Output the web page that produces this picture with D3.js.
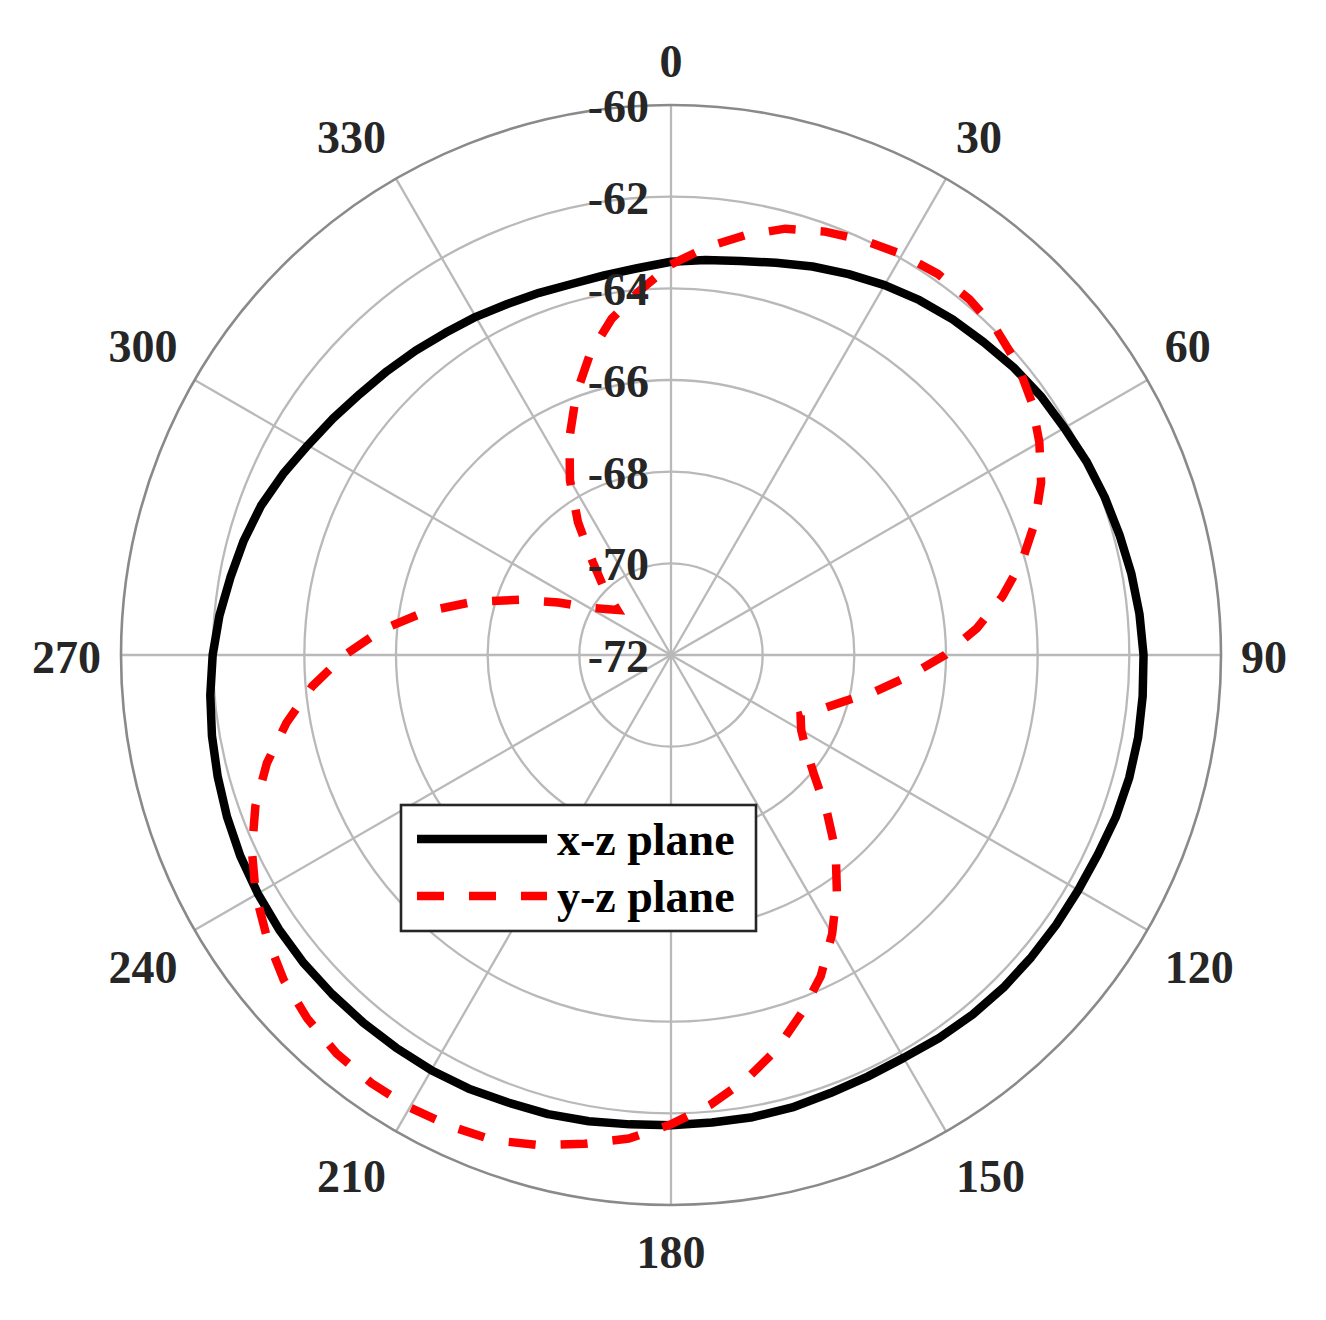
<!DOCTYPE html>
<html><head><meta charset="utf-8">
<script src="https://cdn.jsdelivr.net/npm/d3@7"></script>
<style>
body{margin:0;background:#fff;}
text{font-family:"Liberation Serif","Times New Roman",serif;font-weight:bold;}
</style>
</head><body>
<svg id="chart" width="1326" height="1320"></svg>
<script>
const angles = [0,5,10,15,20,25,30,35,40,45,50,55,60,65,70,75,80,85,90,95,100,105,110,115,120,125,130,135,140,145,150,155,160,165,170,175,180,185,190,195,200,205,210,215,220,225,230,235,240,245,250,255,260,265,270,275,280,285,290,295,300,305,310,315,320,325,330,335,340,345,350,355];
const xzPlane = [-63.42,-63.35,-63.27,-63.14,-62.98,-62.83,-62.68,-62.55,-62.44,-62.35,-62.24,-62.15,-62.09,-62.00,-61.93,-61.87,-61.80,-61.74,-61.69,-61.67,-61.65,-61.65,-61.67,-61.72,-61.74,-61.74,-61.74,-61.74,-61.76,-61.80,-61.85,-61.85,-61.83,-61.78,-61.76,-61.76,-61.74,-61.72,-61.67,-61.63,-61.61,-61.56,-61.54,-61.54,-61.54,-61.54,-61.54,-61.56,-61.59,-61.63,-61.69,-61.76,-61.83,-61.91,-62.00,-62.11,-62.24,-62.35,-62.48,-62.66,-62.85,-63.00,-63.14,-63.24,-63.33,-63.42,-63.48,-63.55,-63.59,-63.62,-63.59,-63.53];
const yzPlane = [-63.48,-63.07,-62.70,-62.37,-62.17,-62.02,-61.91,-61.85,-61.87,-61.96,-62.13,-62.39,-62.72,-63.09,-63.55,-64.07,-64.66,-65.30,-66.02,-66.78,-67.46,-68.09,-68.53,-68.88,-68.72,-68.40,-67.92,-67.20,-66.41,-65.69,-64.97,-64.27,-63.68,-63.09,-62.59,-62.15,-61.76,-61.41,-61.17,-60.93,-60.73,-60.65,-60.60,-60.60,-60.65,-60.78,-60.97,-61.24,-61.54,-61.91,-62.35,-62.87,-63.48,-64.14,-64.88,-65.67,-66.56,-67.52,-68.48,-69.29,-69.93,-70.25,-70.47,-69.93,-69.34,-68.46,-67.59,-66.76,-65.95,-65.19,-64.55,-64.03];
const radialTicks = [-72,-70,-68,-66,-64,-62,-60];
const angleTicks = [0,30,60,90,120,150,180,210,240,270,300,330];
const seriesNames = ["x-z plane","y-z plane"];

const cx = 671, cy = 655, R = 550;
const svg = d3.select("#chart");
const r = d3.scaleLinear().domain([-72,-60]).range([0,R]);
const toRad = d => d*Math.PI/180;
const g = svg.append("g").attr("transform",`translate(${cx},${cy})`);

// rings
g.selectAll("circle.ring").data(radialTicks.filter(t=>t>-72 && t<-60)).enter()
 .append("circle").attr("r",d=>r(d)).attr("fill","none")
 .attr("stroke","#b9b9b9").attr("stroke-width",2.3);
// spokes
g.selectAll("line.spoke").data(angleTicks).enter().append("line")
 .attr("x1",0).attr("y1",0)
 .attr("x2",d=>R*Math.sin(toRad(d))).attr("y2",d=>-R*Math.cos(toRad(d)))
 .attr("stroke","#b9b9b9").attr("stroke-width",2.3);
// outer circle
g.append("circle").attr("r",r(-60)).attr("fill","none").attr("stroke","#8a8a8a").attr("stroke-width",2.6);

const line = d3.lineRadial().angle(d=>toRad(d[0])).radius(d=>r(d[1])).curve(d3.curveLinearClosed);
g.append("path").datum(angles.map((a,i)=>[a,xzPlane[i]]))
 .attr("d",line).attr("fill","none").attr("stroke","#000").attr("stroke-width",8.5)
 .attr("stroke-linejoin","round");
g.append("path").datum(angles.map((a,i)=>[a,yzPlane[i]]))
 .attr("d",line).attr("fill","none").attr("stroke","#ff0000").attr("stroke-width",8.5)
 .attr("stroke-dasharray","27 25");

// radial labels
g.selectAll("text.rl").data(radialTicks).enter().append("text")
 .attr("x",-22).attr("y",d=>-r(d)+17).attr("text-anchor","end")
 .attr("font-size",46).attr("fill","#262626").text(d=>d);

// angle labels
const LR = 570;
g.selectAll("text.al").data(angleTicks).enter().append("text")
 .attr("x",d=>LR*Math.sin(toRad(d)))
 .attr("y",d=>{
   const y = -LR*Math.cos(toRad(d));
   if (d===90||d===270) return y+18;
   if (d>90 && d<270) return y+43;
   return y-8;
 })
 .attr("text-anchor",d=>(d===0||d===180)?"middle":(d<180?"start":"end"))
 .attr("font-size",46).attr("fill","#262626").text(d=>d);

// legend
const lg = svg.append("g");
lg.append("rect").attr("x",401).attr("y",805).attr("width",355).attr("height",126)
 .attr("fill","#fff").attr("stroke","#262626").attr("stroke-width",2.6);
const legStyles = [{c:"#000",dash:null},{c:"#ff0000",dash:"27 25"}];
seriesNames.forEach((name,i)=>{
  const y = 839 + i*57;
  const l = lg.append("line").attr("x1",417).attr("x2",547).attr("y1",y).attr("y2",y)
    .attr("stroke",legStyles[i].c).attr("stroke-width",8.5);
  if (legStyles[i].dash) l.attr("stroke-dasharray",legStyles[i].dash);
  lg.append("text").attr("x",557).attr("y",y+16).attr("font-size",46).attr("fill","#000").text(name);
});
</script>
</body></html>
